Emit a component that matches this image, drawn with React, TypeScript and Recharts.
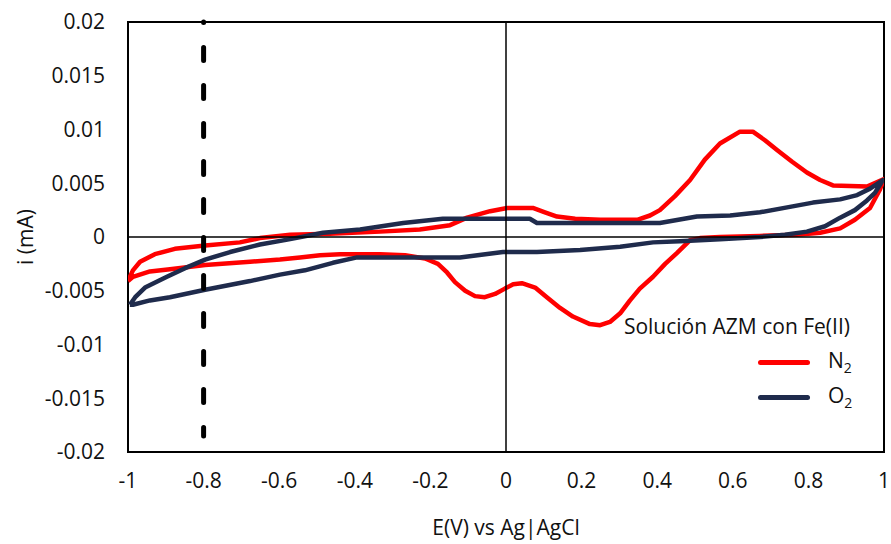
import React from "react";
import {
  LineChart,
  Line,
  XAxis,
  YAxis,
  ReferenceLine,
  ReferenceArea,
} from "recharts";

// ---- data (E in V vs Ag|AgCl, i in mA) ----
const n2E = [
  -1.0, -0.987, -0.968, -0.929, -0.876, -0.796, -0.704, -0.651, -0.571, -0.466, -0.333, -0.228, -0.148,
  -0.103, -0.042, 0.003, 0.071, 0.103, 0.135, 0.183, 0.249, 0.347, 0.381, 0.407, 0.447, 0.487, 0.526,
  0.566, 0.619, 0.653, 0.685, 0.717, 0.757, 0.796, 0.831, 0.865, 0.955, 1.0,
  0.989, 0.963, 0.923, 0.884, 0.831, 0.77, 0.672, 0.566, 0.513, 0.487, 0.452, 0.421, 0.389, 0.354,
  0.328, 0.302, 0.275, 0.249, 0.222, 0.177, 0.143, 0.108, 0.077, 0.042, 0.019, -0.003, -0.029, -0.056,
  -0.082, -0.108, -0.135, -0.156, -0.18, -0.214, -0.267, -0.333, -0.439, -0.492, -0.545, -0.598,
  -0.677, -0.796, -0.889, -0.942, -0.987, -1.0,
];
const n2I = [
  -0.0041, -0.0031, -0.0023, -0.0016, -0.0011, -0.0008, -0.0005, -0.0001, 0.0002, 0.0003, 0.0005, 0.0007, 0.0011,
  0.0018, 0.0024, 0.0027, 0.0027, 0.0023, 0.0019, 0.0017, 0.0016, 0.0016, 0.002, 0.0025, 0.0038, 0.0053, 0.0072,
  0.0087, 0.0098, 0.0098, 0.009, 0.0081, 0.007, 0.006, 0.0053, 0.0048, 0.0047, 0.0054,
  0.0044, 0.0027, 0.0016, 0.0008, 0.0004, 0.0002, 0.0001, 0.0, -0.0001, -0.0003, -0.0015, -0.0025, -0.0037, -0.0048,
  -0.0059, -0.0071, -0.0079, -0.0082, -0.0081, -0.0074, -0.0066, -0.0056, -0.0047, -0.0043, -0.0044, -0.0048, -0.0053, -0.0056,
  -0.0055, -0.005, -0.0042, -0.0033, -0.0025, -0.002, -0.0017, -0.0016, -0.0016, -0.0017, -0.0019, -0.0021,
  -0.0023, -0.0026, -0.003, -0.0032, -0.0037, -0.0041,
];

const o2E = [
  -0.995, -0.981, -0.955, -0.897, -0.849, -0.796, -0.73, -0.651, -0.571, -0.484, -0.386, -0.272, -0.167,
  -0.016, 0.063, 0.082, 0.249, 0.407, 0.505, 0.593, 0.672, 0.751, 0.812, 0.884, 0.929, 0.963, 0.997,
  0.976, 0.955, 0.923, 0.884, 0.844, 0.796, 0.738, 0.672, 0.566, 0.46, 0.389, 0.302, 0.196, 0.082,
  -0.008, -0.122, -0.28, -0.394, -0.458, -0.532, -0.598, -0.677, -0.796, -0.889, -0.942, -0.987, -0.995,
];
const o2I = [
  -0.0063, -0.0056, -0.0047, -0.0037, -0.0029, -0.0021, -0.0014, -0.0007, -0.0002, 0.0004, 0.0007, 0.0013, 0.0017,
  0.0017, 0.0017, 0.0013, 0.0013, 0.0013, 0.0019, 0.002, 0.0023, 0.0028, 0.0032, 0.0035, 0.0039, 0.0045, 0.0053,
  0.0041, 0.0034, 0.0025, 0.0018, 0.001, 0.0005, 0.0002, 0.0, -0.0002, -0.0004, -0.0005, -0.0009, -0.0012, -0.0014,
  -0.0014, -0.0019, -0.0019, -0.0019, -0.0024, -0.0031, -0.0035, -0.0041, -0.0049, -0.0056, -0.0059, -0.0063, -0.0063,
];

const xTicks = [-1, -0.8, -0.6, -0.4, -0.2, 0, 0.2, 0.4, 0.6, 0.8, 1];
const yTicks = [-0.02, -0.015, -0.01, -0.005, 0, 0.005, 0.01, 0.015, 0.02];

const markerE = -0.8;
const markerTop = 0.02;
const markerBottom = -0.0185;

const legendTitle = "Solución AZM con Fe(II)";
const seriesNames = ["N", "O"];
const yLabel = "i (mA)";
const xLabel = "E(V) vs Ag|AgCl";

const n2Data = n2E.map((E, k) => ({ E, i: n2I[k] }));
const o2Data = o2E.map((E, k) => ({ E, i: o2I[k] }));

const FONT = "'Open Sans', sans-serif";
const FS = 21;
const TXT = "#111";
const RED = "#FF0000";
const NAVY = "#1F2B4C";

const LegendBox = () => (
  <div
    style={{
      position: "absolute",
      left: 590,
      top: 312,
      width: 260,
      height: 100,
      fontFamily: FONT,
      fontSize: FS,
      color: TXT,
      lineHeight: "29px",
    }}
  >
    <div style={{ position: "absolute", right: 0, top: 0, whiteSpace: "nowrap" }}>{legendTitle}</div>
    <div style={{ position: "absolute", left: 168, top: 48, width: 52, height: 5, background: RED, borderRadius: 3 }} />
    <div style={{ position: "absolute", left: 238, top: 34, whiteSpace: "nowrap" }}>
      {seriesNames[0]}
      <span style={{ fontSize: 14, position: "relative", top: 5 }}>2</span>
    </div>
    <div style={{ position: "absolute", left: 168, top: 83, width: 52, height: 5, background: NAVY, borderRadius: 3 }} />
    <div style={{ position: "absolute", left: 238, top: 69, whiteSpace: "nowrap" }}>
      {seriesNames[1]}
      <span style={{ fontSize: 14, position: "relative", top: 5 }}>2</span>
    </div>
  </div>
);

const YLabelContent = (props: any) => {
  const vb = props.viewBox || { y: 22, height: 430 };
  const cy = vb.y + vb.height / 2;
  const cx = 25;
  return (
    <text
      x={cx}
      y={cy}
      transform={`rotate(-90, ${cx}, ${cy})`}
      textAnchor="middle"
      dominantBaseline="central"
      style={{ fontFamily: FONT, fontSize: FS, fill: TXT }}
    >
      {yLabel}
    </text>
  );
};

export default function App() {
  return (
    <div style={{ position: "absolute", left: 0, top: 0, width: 891, height: 544, background: "#fff" }}>
      <LineChart width={891} height={544} margin={{ top: 22, right: 7, left: 0, bottom: 0 }}>
        <XAxis
          type="number"
          dataKey="E"
          domain={[-1, 1]}
          ticks={xTicks}
          interval={0}
          allowDataOverflow
          axisLine={false}
          tickLine={false}
          tickSize={0}
          tickMargin={21}
          height={92}
          tick={{ fontFamily: FONT, fontSize: FS, fill: TXT }}
          tickFormatter={(v: number) => String(v)}
          label={{
            value: xLabel,
            position: "insideBottom",
            offset: 9,
            style: { fontFamily: FONT, fontSize: FS, fill: TXT },
          }}
        />
        <YAxis
          type="number"
          dataKey="i"
          domain={[-0.02, 0.02]}
          ticks={yTicks}
          interval={0}
          allowDataOverflow
          axisLine={false}
          tickLine={false}
          tickSize={0}
          tickMargin={23}
          width={128}
          tick={{ fontFamily: FONT, fontSize: FS, fill: TXT }}
          tickFormatter={(v: number) => String(v)}
          label={<YLabelContent />}
        />
        <Line
          data={n2Data}
          dataKey="i"
          type="linear"
          stroke={RED}
          strokeWidth={4.5}
          dot={false}
          activeDot={false}
          isAnimationActive={false}
          strokeLinejoin="round"
        />
        <Line
          data={o2Data}
          dataKey="i"
          type="linear"
          stroke={NAVY}
          strokeWidth={4.5}
          dot={false}
          activeDot={false}
          isAnimationActive={false}
          strokeLinejoin="round"
        />
        <ReferenceLine x={0} stroke="#000" strokeWidth={1.5} />
        <ReferenceLine y={0} stroke="#000" strokeWidth={1.5} />
        <ReferenceLine
          segment={[
            { x: markerE, y: markerTop },
            { x: markerE, y: markerBottom },
          ]}
          stroke="#000"
          strokeWidth={5}
          strokeDasharray="13 25"
          strokeDashoffset={12.5}
          strokeLinecap="round"
        />
        <ReferenceArea x1={-1} x2={1} y1={-0.02} y2={0.02} fill="none" fillOpacity={0} stroke="#000" strokeWidth={2} />
      </LineChart>
      <LegendBox />
    </div>
  );
}
